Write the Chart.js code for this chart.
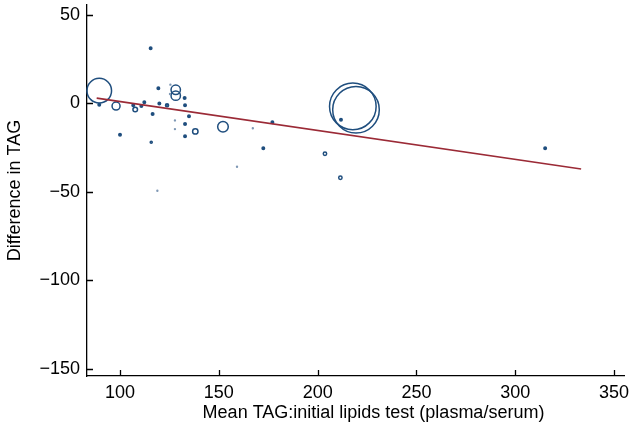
<!DOCTYPE html>
<html>
<head>
<meta charset="utf-8">
<script src="https://cdn.jsdelivr.net/npm/chart.js@4/dist/chart.umd.min.js"></script>
<style>
html,body{margin:0;padding:0;background:#fff;}
#wrap{width:630px;height:430px;position:relative;}
</style>
</head>
<body>
<div id="wrap"><canvas id="c" width="630" height="430"></canvas></div>
<script>
// Study-level data
const meanTAG = [89.5,115.5,89.5,98.0,100.0,107.7,106.7,110.8,112.3,119.4,119.9,116.5,123.8,115.8,118.9,128.2,128.2,125.5,125.3,132.7,132.9,134.9,127.8,127.8,132.9,132.9,138.1,152.1,167.2,159.2,177.1,172.5,217.8,219.4,211.8,203.7,211.5,315.1];
const diffTAG = [7.2,31.2,-0.7,-1.5,-17.7,-3.4,-1.1,-1.5,0.7,8.6,0,-6,-1,-21.9,-49.3,7.7,4.4,10.6,5.3,3,-1,-7.3,-9.6,-14.5,-11.7,-18.6,-15.8,-13.2,-14,-35.8,-10.6,-25.4,-1.7,-3.6,-9.2,-28.4,-42,-25.3];
const weight  = [12.3,1,1,4,1,2.3,1,1,1,1,1,1,1.3,0.8,0.6,4.7,4.7,0.6,0.6,1,1,1,0.6,0.6,1,1,2.7,5.3,0.6,0.6,1,1,23.3,23.3,1,1.7,1.7,1];
// Fitted regression line endpoints
const fitX = [88.2, 333.3];
const fitY = [3.0, -37.1];
// Tick labels and titles
const xTicks = [100,150,200,250,300,350];
const yTicks = [50,0,-50,-100,-150];
const xTitle = 'Mean TAG:initial lipids test (plasma/serum)';
const yTitle = 'Difference in TAG';

const BLUE = '#1f4e7e';
const PALE = '#7f98b5';
const RED = '#9b2a36';
const FONT = 'Liberation Sans, Arial, Helvetica, sans-serif';
const FS = 18;

const bubbles = meanTAG.map((x,i)=>({x:x, y:diffTAG[i], r:weight[i]}));
const fitLine = fitX.map((x,i)=>({x:x, y:fitY[i]}));

const axisDecor = {
  id:'axisDecor',
  afterDatasetsDraw(chart){
    const ctx = chart.ctx, xs = chart.scales.x, ys = chart.scales.y;
    ctx.save();
    ctx.strokeStyle = '#000';
    ctx.lineWidth = 1.3;
    ctx.beginPath();
    xs.ticks.forEach(t=>{
      const px = Math.round(xs.getPixelForValue(t.value))+0.5;
      ctx.moveTo(px, ys.bottom); ctx.lineTo(px, ys.bottom-6);
    });
    yTicks.forEach(v=>{
      const py = Math.round(ys.getPixelForValue(v))+0.5;
      ctx.moveTo(xs.left, py); ctx.lineTo(xs.left+6, py);
    });
    ctx.stroke();
    // x-axis title
    ctx.fillStyle = '#000';
    ctx.font = FS + 'px ' + FONT;
    ctx.textAlign = 'center';
    ctx.textBaseline = 'middle';
    ctx.fillText(xTitle, (xs.left + xs.right)/2 + 18, chart.height - 17);
    ctx.restore();
  }
};

const fmt = v => v < 0 ? '\u2212' + Math.abs(v) : String(v);
const zeroPad = s => { s.paddingLeft = 0; s.paddingRight = 0; s.paddingTop = 0; s.paddingBottom = 0; };

new Chart(document.getElementById('c'), {
  type:'bubble',
  data:{
    datasets:[
      {
        type:'line',
        data:fitLine,
        borderColor:RED,
        borderWidth:1.6,
        pointRadius:0,
        fill:false,
        order:0,
        clip:false
      },
      {
        type:'bubble',
        data:bubbles,
        backgroundColor:'rgba(0,0,0,0)',
        borderColor:ctx => (ctx.raw && ctx.raw.r < 0.7) ? PALE : BLUE,
        borderWidth:ctx => (ctx.raw && ctx.raw.r < 0.7) ? 1.2 : (ctx.raw && ctx.raw.r <= 1.3 ? 2 : 1.5),
        hoverRadius:0,
        order:1,
        clip:false
      }
    ]
  },
  options:{
    responsive:false,
    animation:false,
    devicePixelRatio:1,
    layout:{autoPadding:false, padding:{top:5,right:6,left:0,bottom:0}},
    plugins:{legend:{display:false},tooltip:{enabled:false}},
    scales:{
      x:{
        type:'linear',
        min:83.3, max:355,
        afterBuildTicks:s=>{s.ticks = xTicks.map(v=>({value:v}));},
        afterFit:s=>{s.height = 54; zeroPad(s);},
        grid:{drawOnChartArea:false, drawTicks:false},
        border:{display:true, color:'#000', width:1.3},
        ticks:{padding:6, color:'#000', font:{family:FONT, size:FS}, callback:fmt, maxRotation:0, autoSkip:false},
        title:{display:false}
      },
      y:{
        type:'linear',
        min:-154, max:55.6,
        afterBuildTicks:s=>{s.ticks = yTicks.map(v=>({value:v}));},
        afterFit:s=>{s.width = 87; zeroPad(s);},
        grid:{drawOnChartArea:false, drawTicks:false},
        border:{display:true, color:'#000', width:1.3},
        ticks:{padding:7, color:'#000', font:{family:FONT, size:FS}, callback:fmt, autoSkip:false},
        title:{display:true, text:yTitle, color:'#000', font:{family:FONT, size:FS}, padding:{top:4, bottom:0}}
      }
    }
  },
  plugins:[axisDecor]
});
</script>
</body>
</html>
